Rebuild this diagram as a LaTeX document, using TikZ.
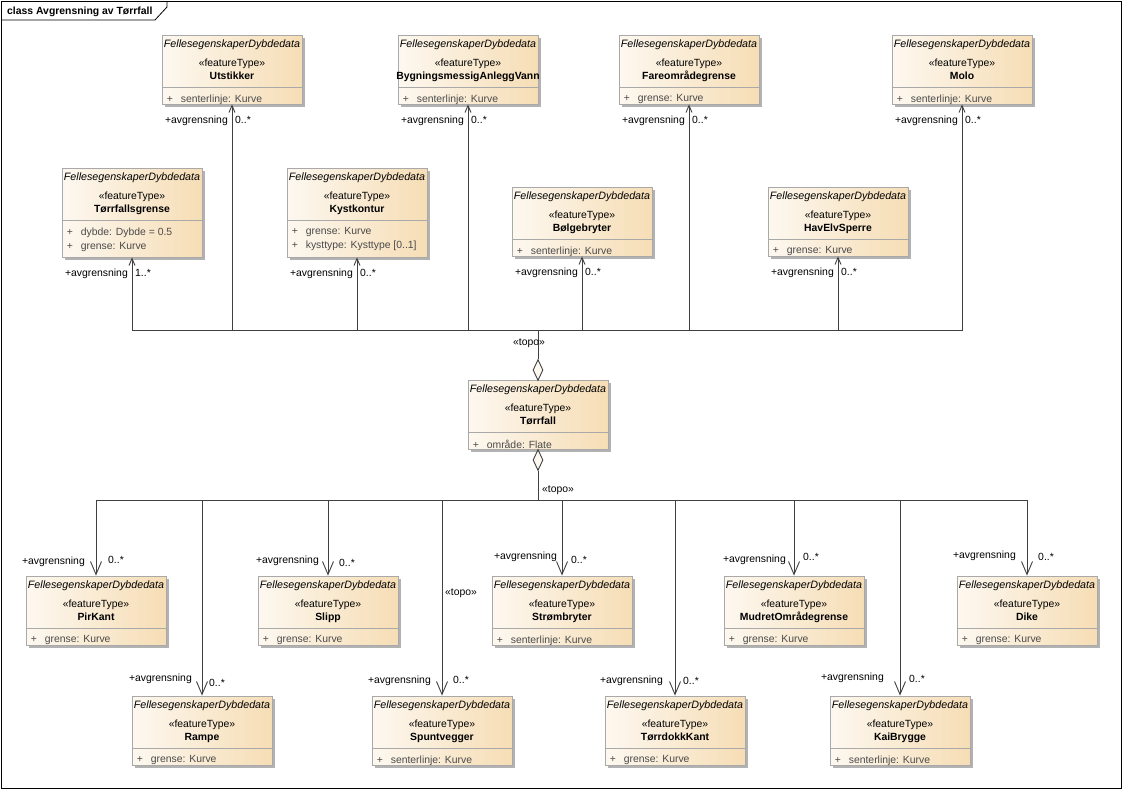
\documentclass[tikz,border=0pt]{standalone}
\usepackage{fontspec}
\setmainfont{Liberation Sans}
\usetikzlibrary{arrows.meta,shadows,shapes.geometric}
\definecolor{clsleft}{HTML}{FDF8F0}
\definecolor{clsright}{HTML}{F6DDB5}
\definecolor{clsborder}{HTML}{A9A9A9}
\definecolor{connline}{HTML}{404040}
\definecolor{attrtext}{HTML}{4A4A4A}
\begin{document}
\begin{tikzpicture}[x=1pt,y=-1pt,
        every node/.style={font=\fontsize{10.4}{12}\selectfont,inner sep=0pt},
        cls/.style={draw=clsborder,line width=0.8pt,left color=clsleft,right color=clsright,minimum width=140pt,drop shadow={shadow xshift=3pt,shadow yshift=-3pt,fill=black!30,opacity=1}},
        hdr/.style={anchor=base,font=\fontsize{10.7}{12}\selectfont\itshape},
        stereo/.style={anchor=base},
        cname/.style={anchor=base,font=\fontsize{10.4}{12}\selectfont\bfseries},
        attr/.style={anchor=north west,align=left,text=attrtext,font=\fontsize{10.4}{14}\selectfont},
        role/.style={anchor=east},
        mult/.style={anchor=west},
        conn/.style={draw=connline,line width=0.9pt},
        tipsmall/.style={-{Straight Barb[length=7pt,width=6pt]}},
        tipbig/.style={-{Straight Barb[length=13pt,width=11pt]}},
        aggr/.style={diamond,draw=connline,fill=clsleft,line width=0.9pt,minimum width=10pt,minimum height=21pt}]
    \useasboundingbox (0,0) rectangle (1123,790);
    \draw[line width=0.8pt] (1,1) rectangle (1121,788);
    \draw[line width=0.8pt] (1,20) -- (155,20) -- (167,7) -- (167,1);
    \node[anchor=base west,font=\fontsize{10.4}{12}\selectfont\bfseries] (title) at (7,14) {class Avgrensning av Tørrfall};

    \foreach \n/\x/\t/\h/\c/\a in {
            utstikker/232/35/69/Utstikker/{senterlinje: Kurve},
            bygning/468/35/69/BygningsmessigAnleggVann/{senterlinje: Kurve},
            fareomr/689/35/69/Fareområdegrense/{grense: Kurve},
            molo/962/35/69/Molo/{senterlinje: Kurve},
            torrgrense/132/168/89/Tørrfallsgrense/{dybde: Dybde = 0.5\\\makebox[14pt][l]{+}grense: Kurve},
            kystkontur/357/168/89/Kystkontur/{grense: Kurve\\\makebox[14pt][l]{+}kysttype: Kysttype [0..1]},
            bolgebryter/582/187/69/Bølgebryter/{senterlinje: Kurve},
            havelv/838/187/69/HavElvSperre/{grense: Kurve},
            torrfall/538/380/69/Tørrfall/{område: Flate},
            pirkant/96/576/69/PirKant/{grense: Kurve},
            slipp/328/576/69/Slipp/{grense: Kurve},
            strombryter/562/576/69/Strømbryter/{senterlinje: Kurve},
            mudret/794/576/69/MudretOmrådegrense/{grense: Kurve},
            dike/1027/576/69/Dike/{grense: Kurve},
            rampe/202/696/69/Rampe/{grense: Kurve},
            spunt/442/696/69/Spuntvegger/{senterlinje: Kurve},
            torrdokk/675/696/69/TørrdokkKant/{grense: Kurve},
            kaibrygge/900/696/69/KaiBrygge/{senterlinje: Kurve}} {
        \node[cls,minimum height=\h] (\n) at (\x,{\t+\h/2}) {};
        \node[hdr] (\n-hdr) at ([yshift=-12.5]\n.north) {FellesegenskaperDybdedata};
        \node[stereo] (\n-st) at ([yshift=-31.5]\n.north) {«featureType»};
        \node[cname] (\n-nm) at ([yshift=-45]\n.north) {\c};
        \draw[draw=clsborder,line width=0.8pt] ([yshift=-53]\n.north west) -- ([yshift=-53]\n.north east);
        \node[attr] (\n-at) at ([xshift=5,yshift=-60]\n.north west) {\makebox[14pt][l]{+}\a};
    }

    \node[aggr] (agg-top) at (538,370) {};
    \node[aggr] (agg-bot) at (538,460) {};
    \coordinate (bus-top) at (538,330);
    \coordinate (bus-bot) at (538,500);
    \draw[conn] (agg-top.north) -- (bus-top);
    \draw[conn] (agg-bot.south) -- (bus-bot);
    \node (topo-top) at (529,343) {«topo»};
    \node[anchor=west] (topo-bot) at (542,490) {«topo»};
    \node[anchor=west] (topo-spunt) at (445,593) {«topo»};

    \foreach \n/\m in {utstikker/0..*,bygning/0..*,fareomr/0..*,molo/0..*,torrgrense/1..*,kystkontur/0..*,bolgebryter/0..*,havelv/0..*} {
        \draw[conn,tipsmall] (bus-top) -| (\n.south);
        \node[role] (\n-role) at ([xshift=-4,yshift=-16]\n.south) {+avgrensning};
        \node[mult] (\n-mult) at ([xshift=3,yshift=-16]\n.south) {\m};
    }

    \foreach \n/\lx/\ly/\mx/\my in {pirkant/-11/14/12/16,slipp/-9/15/11/13,strombryter/-5/19/9/16,mudret/-8/16/9/19,dike/-11/20/11/19,rampe/-10/17/7/13,spunt/-11/15/11/16,torrdokk/-12/15/8/15,kaibrygge/-16/18/9/17} {
        \draw[conn,tipbig] (bus-bot) -| (\n.north);
        \node[role] (\n-role) at ([xshift=\lx,yshift=\ly]\n.north) {+avgrensning};
        \node[mult] (\n-mult) at ([xshift=\mx,yshift=\my]\n.north) {0..*};
    }
\end{tikzpicture}
\end{document}
